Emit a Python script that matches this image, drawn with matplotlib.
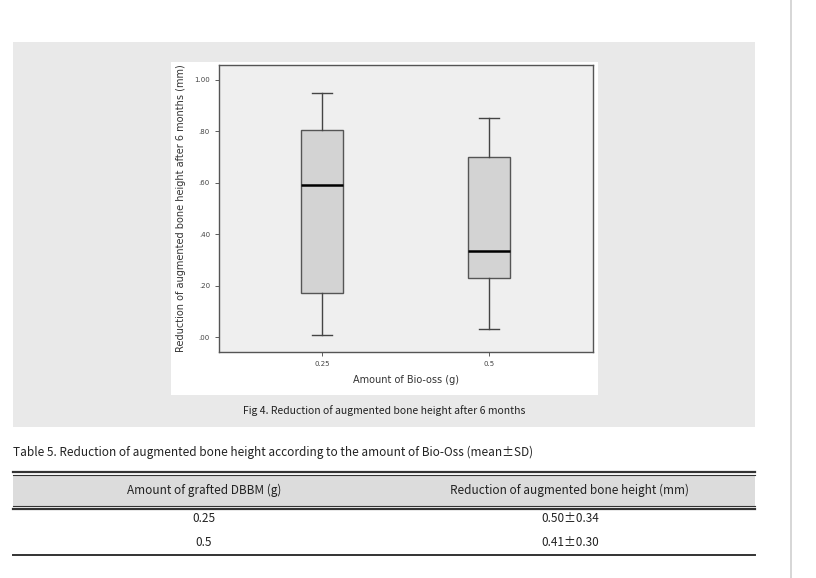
import matplotlib
matplotlib.use("Agg")
import matplotlib.pyplot as plt
from matplotlib.patches import Rectangle
from matplotlib.lines import Line2D

# --- data -------------------------------------------------------------------
groups = ["0.25", "0.5"]
whisker_low = [0.01, 0.03]
q1 = [0.17, 0.23]
median = [0.59, 0.335]
q3 = [0.805, 0.70]
whisker_high = [0.95, 0.85]
yticks = [0.0, 0.2, 0.4, 0.6, 0.8, 1.0]
ytick_labels = [".00", ".20", ".40", ".60", ".80", "1.00"]

table_header = ["Amount of grafted DBBM (g)", "Reduction of augmented bone height (mm)"]
table_amount = ["0.25", "0.5"]
table_reduction = ["0.50\u00b10.34", "0.41\u00b10.30"]

W, H = 816, 578
fig = plt.figure(figsize=(W / 100, H / 100), dpi=100)
fig.patch.set_facecolor("white")


def fx(px):
    return px / W


def fy(py):
    return 1 - py / H


# gray panel and white chart area (kept behind the axes)
fig.patches.append(Rectangle((fx(13), fy(427)), fx(742), (427 - 42) / H,
                             transform=fig.transFigure, facecolor="#e9e9e9",
                             edgecolor="none", zorder=-10))
fig.patches.append(Rectangle((fx(171), fy(395)), fx(427), (395 - 62) / H,
                             transform=fig.transFigure, facecolor="white",
                             edgecolor="none", zorder=-9))
# right page rule
fig.lines.append(Line2D([fx(791), fx(791)], [0, 1], transform=fig.transFigure,
                        color="#d0d0d0", linewidth=1.2))

# --- box plot ---------------------------------------------------------------
ax = fig.add_axes([fx(219), fy(352), fx(374), (352 - 65) / H])
ax.set_zorder(5)
ax.set_facecolor("#efefef")
stats = []
for i, g in enumerate(groups):
    stats.append(dict(label=g, whislo=whisker_low[i], q1=q1[i], med=median[i],
                      q3=q3[i], whishi=whisker_high[i], fliers=[]))
ax.bxp(stats, positions=[1, 2], widths=0.25, patch_artist=True,
       boxprops=dict(facecolor="#d3d3d3", edgecolor="#555555", linewidth=1),
       medianprops=dict(color="black", linewidth=1.8),
       whiskerprops=dict(color="#444444", linewidth=1),
       capprops=dict(color="#444444", linewidth=1), capwidths=0.12)
ax.set_xlim(0.383, 2.623)
ax.set_ylim(-0.058, 1.058)
ax.set_yticks(yticks)
ax.set_yticklabels(ytick_labels)
ax.tick_params(labelsize=5, colors="#444444", length=3, width=0.6)
for s in ax.spines.values():
    s.set_color("#555555")
    s.set_linewidth(1)
ax.set_xlabel("Amount of Bio-oss (g)", fontsize=7, color="#333333", labelpad=6)
ax.set_ylabel("Reduction of augmented bone height after 6 months (mm)",
              fontsize=7, color="#333333", labelpad=6)

txt = dict(family=["Noto Sans CJK KR", "DejaVu Sans"], color="#222222")
fig.text(fx(384), fy(411), "Fig 4. Reduction of augmented bone height after 6 months",
         ha="center", va="center", fontsize=7.5, **txt)
fig.text(fx(13), fy(452),
         "Table 5. Reduction of augmented bone height according to the amount of Bio-Oss (mean\u00b1SD)",
         ha="left", va="center", fontsize=8.5, **txt)

# --- table --------------------------------------------------------------------
fig.patches.append(Rectangle((fx(13), fy(506)), fx(742), (506 - 475) / H,
                             transform=fig.transFigure, facecolor="#dcdcdc",
                             edgecolor="none", zorder=-10))
for y, lw in [(472, 1.6), (475, 0.8), (506, 0.8), (509, 1.6), (555, 1.4)]:
    fig.lines.append(Line2D([fx(13), fx(755)], [fy(y), fy(y)],
                            transform=fig.transFigure, color="#333333", linewidth=lw))
col_x = [fx(204), fx(570)]
for cx, h in zip(col_x, table_header):
    fig.text(cx, fy(490), h, ha="center", va="center", fontsize=8.5, **txt)
for i, y in enumerate([519, 543]):
    fig.text(col_x[0], fy(y), table_amount[i], ha="center", va="center", fontsize=8.5, **txt)
    fig.text(col_x[1], fy(y), table_reduction[i], ha="center", va="center", fontsize=8.5, **txt)

fig.savefig("out.png", dpi=100)
